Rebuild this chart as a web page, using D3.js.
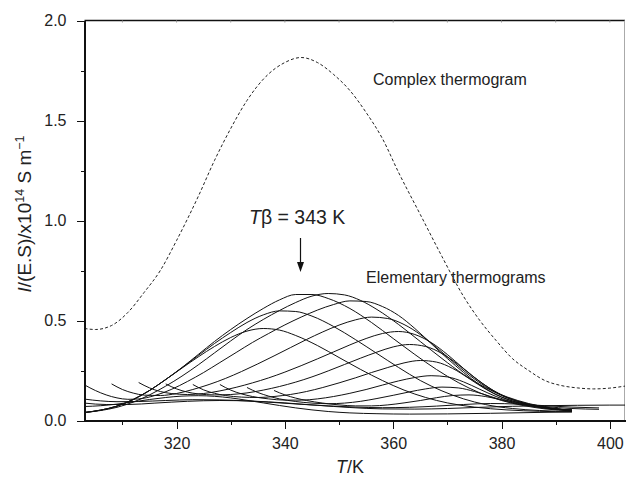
<!DOCTYPE html>
<html lang="en">
<head>
<meta charset="utf-8">
<title>Complex and elementary thermograms</title>
<script src="https://d3js.org/d3.v7.min.js"></script>
<style>
  body { margin: 0; background: #fff; }
  text { font-family: "Liberation Sans", Arial, Helvetica, sans-serif; fill: #222; }
  .axis path, .axis line { stroke: #111; shape-rendering: crispEdges; }
  .axis text { font-size: 16px; }
</style>
</head>
<body>
<script>
// ---- data ----
var xMajorTicks = [320, 340, 360, 380, 400];
var xMinorTicks = [310, 330, 350, 370, 390];
var yMajorTicks = [0.0, 0.5, 1.0, 1.5, 2.0];
var yMinorTicks = [0.25, 0.75, 1.25, 1.75];

// complex thermogram (dashed)
var complexT = [303, 305, 308, 311, 314, 317, 320, 324, 327, 330, 333, 336.5, 340, 343, 346, 349, 352, 355, 358, 361, 365, 369, 373, 376, 379, 382, 385, 388, 391, 394, 397, 400, 402.8];
var complexI = [0.46, 0.455, 0.475, 0.54, 0.64, 0.75, 0.9, 1.12, 1.3, 1.46, 1.6, 1.72, 1.79, 1.815, 1.79, 1.73, 1.65, 1.54, 1.41, 1.24, 1.03, 0.82, 0.62, 0.5, 0.4, 0.31, 0.25, 0.2, 0.175, 0.163, 0.158, 0.162, 0.172];

// elementary thermograms, [T, I] pairs
var elemB1 = [[303,0.04],[306,0.052],[309,0.072],[312,0.105],[315,0.15],[318,0.205],[321,0.262],[324,0.318],[327,0.37],[330,0.415],[333,0.447],[336,0.46],[339,0.452],[342,0.425],[346,0.375],[350,0.315],[354,0.255],[358,0.2],[362,0.152],[366,0.115],[370,0.088],[375,0.067],[381,0.053],[387,0.046],[393,0.043]];
var elemB2 = [[303,0.04],[306,0.052],[309,0.072],[312,0.105],[315,0.15],[318,0.205],[321,0.264],[324,0.325],[327,0.385],[330,0.44],[333,0.49],[336,0.528],[339,0.548],[342,0.545],[345,0.522],[349,0.47],[353,0.405],[357,0.335],[361,0.265],[365,0.2],[369,0.148],[373,0.108],[377,0.08],[382,0.06],[387,0.05],[393,0.045]];
var elemB3 = [[303,0.04],[306,0.052],[309,0.072],[312,0.105],[315,0.15],[318,0.205],[321,0.265],[324,0.33],[327,0.395],[330,0.455],[333,0.51],[336,0.56],[339,0.603],[342,0.63],[345,0.63],[348,0.61],[352,0.56],[356,0.49],[360,0.41],[364,0.33],[368,0.255],[372,0.19],[376,0.138],[380,0.1],[384,0.075],[388,0.058],[393,0.048]];
var elemB4 = [[303,0.04],[306,0.05],[309,0.066],[312,0.092],[315,0.128],[318,0.172],[321,0.222],[324,0.278],[327,0.338],[330,0.398],[333,0.455],[336,0.505],[339,0.55],[342,0.59],[345,0.622],[348,0.635],[351,0.628],[354,0.6],[357,0.555],[361,0.48],[365,0.395],[369,0.31],[373,0.23],[377,0.165],[381,0.118],[385,0.085],[389,0.063],[393,0.05]];
var elemG1 = [[303,0.178],[305,0.15],[307,0.128],[309,0.113],[311,0.106],[313,0.108],[316,0.125],[319,0.155],[322,0.195],[325,0.24],[328,0.29],[331,0.34],[334,0.39],[337,0.435],[340,0.478],[343,0.517],[346,0.552],[349,0.58],[352,0.598],[355,0.595],[358,0.57],[361,0.525],[364,0.46],[367,0.385],[370,0.31],[373,0.24],[376,0.178],[379,0.13],[383,0.09],[387,0.066],[393,0.05]];
var elemG2 = [[308,0.183],[310,0.155],[312,0.137],[314,0.127],[317,0.125],[320,0.135],[323,0.155],[326,0.18],[329,0.21],[332,0.245],[335,0.283],[338,0.323],[341,0.364],[344,0.405],[347,0.443],[350,0.477],[353,0.503],[356,0.517],[359,0.51],[362,0.48],[365,0.43],[368,0.365],[371,0.295],[374,0.228],[377,0.17],[380,0.125],[384,0.088],[388,0.064],[393,0.05]];
var elemG3 = [[313,0.19],[315,0.163],[317,0.145],[319,0.135],[322,0.13],[325,0.135],[328,0.148],[331,0.166],[334,0.188],[337,0.213],[340,0.242],[343,0.274],[346,0.308],[349,0.343],[352,0.378],[355,0.41],[358,0.435],[361,0.445],[364,0.43],[367,0.39],[370,0.33],[373,0.26],[376,0.195],[379,0.142],[382,0.105],[386,0.075],[390,0.058],[393,0.05]];
var elemG4 = [[318,0.183],[320,0.158],[322,0.142],[324,0.133],[327,0.128],[330,0.13],[333,0.138],[336,0.152],[339,0.17],[342,0.192],[345,0.218],[348,0.248],[351,0.28],[354,0.312],[357,0.342],[360,0.368],[363,0.38],[366,0.37],[369,0.335],[372,0.28],[375,0.215],[378,0.158],[381,0.115],[385,0.082],[389,0.062],[393,0.052]];
var elemG5 = [[323,0.18],[325,0.153],[327,0.136],[329,0.125],[332,0.117],[335,0.115],[338,0.12],[341,0.13],[344,0.145],[347,0.165],[350,0.188],[353,0.213],[356,0.24],[359,0.265],[362,0.288],[365,0.3],[368,0.292],[371,0.26],[374,0.21],[377,0.158],[380,0.117],[384,0.083],[388,0.063],[393,0.052]];
var elemG6 = [[328,0.18],[330,0.152],[332,0.133],[334,0.12],[337,0.108],[340,0.102],[343,0.102],[346,0.108],[349,0.12],[352,0.136],[355,0.155],[358,0.177],[361,0.198],[364,0.215],[367,0.224],[370,0.218],[373,0.193],[376,0.156],[379,0.12],[382,0.092],[386,0.07],[390,0.057],[393,0.052]];
var elemG7 = [[333,0.165],[335,0.14],[337,0.122],[339,0.108],[342,0.095],[345,0.087],[348,0.084],[351,0.087],[354,0.096],[357,0.11],[360,0.126],[363,0.143],[366,0.158],[369,0.167],[372,0.163],[375,0.145],[378,0.12],[381,0.095],[385,0.074],[389,0.06],[393,0.053]];
var elemG8 = [[338,0.15],[340,0.128],[342,0.112],[344,0.1],[347,0.087],[350,0.078],[353,0.073],[356,0.073],[359,0.078],[362,0.088],[365,0.1],[368,0.114],[371,0.125],[374,0.128],[377,0.12],[380,0.104],[384,0.085],[388,0.07],[393,0.06],[398,0.056]];
var elemG9 = [[303,0.107],[306,0.098],[309,0.094],[313,0.095],[318,0.1],[323,0.104],[328,0.103],[333,0.098],[338,0.09],[343,0.081],[348,0.073],[353,0.067],[358,0.064],[363,0.066],[368,0.072],[373,0.08],[378,0.085],[383,0.082],[388,0.074],[393,0.067],[398,0.063]];
var elemG10 = [[303,0.087],[307,0.08],[311,0.08],[316,0.087],[322,0.096],[328,0.1],[334,0.097],[340,0.088],[346,0.076],[352,0.065],[358,0.058],[364,0.057],[370,0.06],[376,0.066],[382,0.071],[388,0.074],[394,0.076],[400,0.077],[402.8,0.077]];
var elemLow = [[303,0.07],[306,0.074],[309,0.082],[312,0.093],[315,0.105],[318,0.115],[321,0.122],[324,0.124],[327,0.121],[330,0.113],[333,0.101],[336,0.088],[339,0.075],[342,0.063],[345,0.053],[348,0.045],[352,0.038],[357,0.034],[363,0.032],[370,0.033],[378,0.036],[386,0.04],[393,0.043]];

var elementary = [elemLow, elemG10, elemG9, elemG8, elemG7, elemG6, elemG5, elemG4, elemG3, elemG2, elemG1, elemB1, elemB2, elemB3, elemB4];

var tBeta = 343;

// ---- layout ----
var W = 626, H = 481;
var margin = {top: 20.5, right: 1, bottom: 60.5, left: 84.5};

var svg = d3.select("body").append("svg")
    .attr("width", W)
    .attr("height", H);

svg.append("rect").attr("width", W).attr("height", H).attr("fill", "#fff");

var xScale = d3.scaleLinear().domain([303, 402.8]).range([margin.left, W - margin.right]);
var yScale = d3.scaleLinear().domain([0, 2]).range([H - margin.bottom, margin.top]);

svg.append("clipPath").attr("id", "plot")
  .append("rect")
    .attr("x", margin.left).attr("y", margin.top)
    .attr("width", W - margin.right - margin.left)
    .attr("height", H - margin.bottom - margin.top);

// frame top / right
svg.append("line")
    .attr("x1", margin.left).attr("x2", W - margin.right)
    .attr("y1", margin.top).attr("y2", margin.top)
    .attr("stroke", "#111").attr("stroke-width", 1.3);
svg.append("line")
    .attr("x1", W - margin.right - 0.5).attr("x2", W - margin.right - 0.5)
    .attr("y1", margin.top).attr("y2", H - margin.bottom)
    .attr("stroke", "#aaa").attr("stroke-width", 1);

// tiny inward ticks on top frame
svg.append("g").selectAll("line")
  .data(xMajorTicks.concat(xMinorTicks))
  .enter().append("line")
    .attr("x1", function(d) { return xScale(d); })
    .attr("x2", function(d) { return xScale(d); })
    .attr("y1", margin.top).attr("y2", margin.top + 2)
    .attr("stroke", "#999");

// ---- curves ----
var line = d3.line()
    .x(function(d) { return xScale(d[0]); })
    .y(function(d) { return yScale(d[1]); })
    .curve(d3.curveMonotoneX);

var plot = svg.append("g").attr("clip-path", "url(#plot)");

plot.append("path")
    .datum(complexT.map(function(t, i) { return [t, complexI[i]]; }))
    .attr("d", line)
    .attr("fill", "none")
    .attr("stroke", "#222")
    .attr("stroke-width", 1)
    .attr("stroke-dasharray", "3,2.2");

plot.selectAll(".elem")
  .data(elementary)
  .enter().append("path")
    .attr("class", "elem")
    .attr("d", line)
    .attr("fill", "none")
    .attr("stroke", "#111")
    .attr("stroke-width", 1);

// ---- axes ----
var xAxis = svg.append("g")
    .attr("class", "axis")
    .attr("transform", "translate(0," + (H - margin.bottom) + ")")
    .call(d3.axisBottom(xScale).tickValues(xMajorTicks).tickSize(8).tickSizeOuter(0).tickPadding(9).tickFormat(d3.format("d")));
xAxis.select(".domain").attr("stroke-width", 1.3);
svg.append("g")
    .attr("class", "axis")
    .attr("transform", "translate(0," + (H - margin.bottom) + ")")
    .call(d3.axisBottom(xScale).tickValues(xMinorTicks).tickSize(4).tickSizeOuter(0).tickFormat(""))
    .select(".domain").remove();

var yAxis = svg.append("g")
    .attr("class", "axis")
    .attr("transform", "translate(" + margin.left + ",0)")
    .call(d3.axisLeft(yScale).tickValues(yMajorTicks).tickSize(8).tickSizeOuter(0).tickPadding(10).tickFormat(d3.format(".1f")));
yAxis.select(".domain").attr("stroke-width", 1.3);
svg.append("g")
    .attr("class", "axis")
    .attr("transform", "translate(" + margin.left + ",0)")
    .call(d3.axisLeft(yScale).tickValues(yMinorTicks).tickSize(4).tickSizeOuter(0).tickFormat(""))
    .select(".domain").remove();

svg.selectAll(".axis text").attr("fill", "#222");

// axis titles
var xt = svg.append("text")
    .attr("x", 350).attr("y", 473)
    .attr("text-anchor", "middle")
    .style("font-size", "18px");
xt.append("tspan").style("font-style", "italic").text("T");
xt.append("tspan").text("/K");

var yt = svg.append("text")
    .attr("transform", "translate(31,214) rotate(-90)")
    .attr("text-anchor", "middle")
    .style("font-size", "19px");
yt.append("tspan").style("font-style", "italic").text("I");
yt.append("tspan").text("/(E.S)/x10");
yt.append("tspan").attr("dy", -7).style("font-size", "12.5px").text("14");
yt.append("tspan").attr("dy", 7).text(" S m");
yt.append("tspan").attr("dy", -7).style("font-size", "12.5px").text("\u22121");

// annotations
svg.append("text")
    .attr("x", 373).attr("y", 85)
    .style("font-size", "16px")
    .text("Complex thermogram");

svg.append("text")
    .attr("x", 366).attr("y", 283)
    .style("font-size", "16px")
    .text("Elementary thermograms");

var tb = svg.append("text")
    .attr("x", 249).attr("y", 224)
    .style("font-size", "19.5px");
tb.append("tspan").style("font-style", "italic").text("T");
tb.append("tspan").text("\u03b2 = " + tBeta + " K");

// arrow pointing down to T beta
var ax = Math.round(xScale(342.8)) + 0.5;
svg.append("line")
    .attr("x1", ax).attr("x2", ax)
    .attr("y1", 238).attr("y2", 264)
    .attr("stroke", "#111").attr("stroke-width", 1.2);
svg.append("path")
    .attr("d", "M" + (ax - 3.5) + ",262 L" + (ax + 3.5) + ",262 L" + ax + ",272 Z")
    .attr("fill", "#111");
</script>
</body>
</html>
